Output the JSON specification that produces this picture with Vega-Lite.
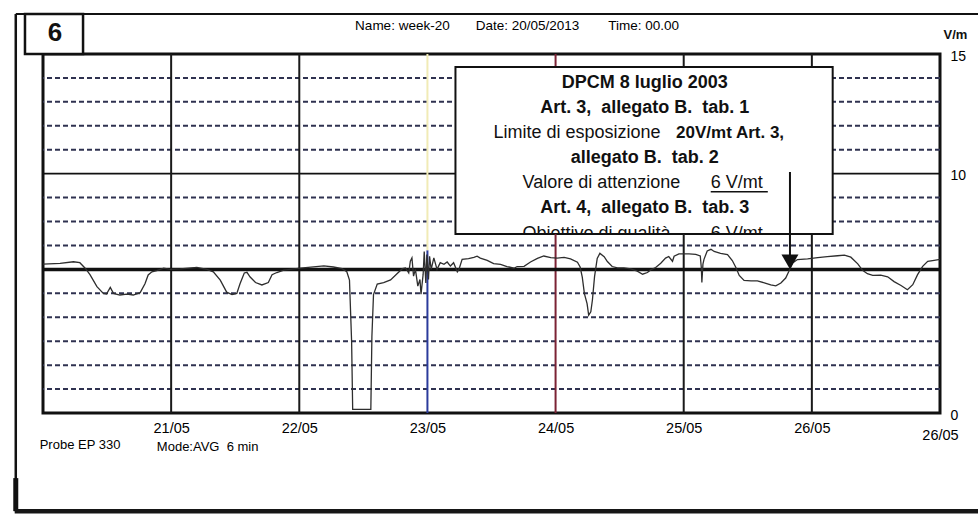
{
  "$schema": "https://vega.github.io/schema/vega-lite/v6.json",
  "width": 897,
  "height": 359,
  "autosize": "none",
  "padding": {"left": 43, "top": 54, "right": 38, "bottom": 108},
  "background": "white",
  "config": {"view": {"stroke": "#111", "strokeWidth": 3}, "font": "Liberation Sans"},
  "data": {"values": [{}]},
  "datasets": {
    "grid": [{"v": 1}, {"v": 2}, {"v": 3}, {"v": 4}, {"v": 5}, {"v": 7}, {"v": 8}, {"v": 9}, {"v": 11}, {"v": 12}, {"v": 13}, {"v": 14}],
    "days": [{"h": 24}, {"h": 48}, {"h": 120}, {"h": 144}],
    "series": [
      {"hour": 0, "vm": 6.22}, {"hour": 3.2, "vm": 6.25}, {"hour": 5.7, "vm": 6.32}, {"hour": 6.9, "vm": 6.28},
      {"hour": 7.9, "vm": 6.05}, {"hour": 8.8, "vm": 5.78}, {"hour": 10.1, "vm": 5.28}, {"hour": 11.3, "vm": 5.0},
      {"hour": 11.9, "vm": 4.97}, {"hour": 12.6, "vm": 5.25}, {"hour": 13.2, "vm": 5.0}, {"hour": 14.4, "vm": 4.93},
      {"hour": 15.7, "vm": 4.97}, {"hour": 16.9, "vm": 4.93}, {"hour": 18.2, "vm": 5.03}, {"hour": 19.1, "vm": 5.4},
      {"hour": 19.7, "vm": 5.77}, {"hour": 20.4, "vm": 5.9}, {"hour": 21.3, "vm": 5.95}, {"hour": 22.6, "vm": 6.05},
      {"hour": 23.8, "vm": 6.0}, {"hour": 25.7, "vm": 6.02}, {"hour": 28.8, "vm": 6.08}, {"hour": 30.7, "vm": 6.0},
      {"hour": 31.9, "vm": 5.9}, {"hour": 33.2, "vm": 5.55}, {"hour": 34.4, "vm": 5.05}, {"hour": 35.4, "vm": 4.95},
      {"hour": 36.3, "vm": 5.0}, {"hour": 36.9, "vm": 5.4}, {"hour": 37.7, "vm": 5.85}, {"hour": 38.2, "vm": 5.88},
      {"hour": 38.8, "vm": 5.68}, {"hour": 39.8, "vm": 5.45}, {"hour": 41.0, "vm": 5.35}, {"hour": 42.2, "vm": 5.45},
      {"hour": 42.9, "vm": 5.78}, {"hour": 43.8, "vm": 5.87}, {"hour": 45.1, "vm": 5.97}, {"hour": 48.2, "vm": 6.05},
      {"hour": 52.6, "vm": 6.15}, {"hour": 54.4, "vm": 6.1}, {"hour": 56.0, "vm": 6.03}, {"hour": 56.9, "vm": 5.9},
      {"hour": 57.4, "vm": 5.55}, {"hour": 57.8, "vm": 3.0}, {"hour": 58.0, "vm": 0.15}, {"hour": 61.4, "vm": 0.15},
      {"hour": 61.6, "vm": 3.2}, {"hour": 61.9, "vm": 4.95}, {"hour": 62.6, "vm": 5.39}, {"hour": 63.8, "vm": 5.45},
      {"hour": 65.1, "vm": 5.56}, {"hour": 66.3, "vm": 5.82}, {"hour": 67.3, "vm": 6.03}, {"hour": 67.9, "vm": 6.06},
      {"hour": 68.5, "vm": 5.85}, {"hour": 68.8, "vm": 6.34}, {"hour": 69.1, "vm": 6.48}, {"hour": 69.4, "vm": 5.72},
      {"hour": 69.75, "vm": 6.0}, {"hour": 70.2, "vm": 5.3}, {"hour": 70.6, "vm": 5.58}, {"hour": 70.8, "vm": 4.96},
      {"hour": 71.2, "vm": 5.8}, {"hour": 71.4, "vm": 6.75}, {"hour": 71.7, "vm": 5.43}, {"hour": 71.9, "vm": 6.62},
      {"hour": 72.2, "vm": 5.58}, {"hour": 72.4, "vm": 6.55}, {"hour": 72.7, "vm": 6.0}, {"hour": 73.2, "vm": 6.48},
      {"hour": 73.8, "vm": 6.0}, {"hour": 74.4, "vm": 6.28}, {"hour": 75.1, "vm": 6.21}, {"hour": 75.7, "vm": 6.31},
      {"hour": 76.3, "vm": 6.14}, {"hour": 76.9, "vm": 6.28}, {"hour": 77.6, "vm": 5.9}, {"hour": 77.9, "vm": 6.0},
      {"hour": 78.5, "vm": 6.42}, {"hour": 79.7, "vm": 6.45}, {"hour": 80.7, "vm": 6.5}, {"hour": 81.3, "vm": 6.55},
      {"hour": 81.9, "vm": 6.47}, {"hour": 83.2, "vm": 6.38}, {"hour": 84.4, "vm": 6.24}, {"hour": 85.7, "vm": 6.21},
      {"hour": 86.9, "vm": 6.12}, {"hour": 88.2, "vm": 6.05}, {"hour": 88.8, "vm": 6.12}, {"hour": 90.1, "vm": 6.13},
      {"hour": 91.3, "vm": 6.31}, {"hour": 92.6, "vm": 6.46}, {"hour": 93.8, "vm": 6.56}, {"hour": 95.1, "vm": 6.49},
      {"hour": 96.3, "vm": 6.47}, {"hour": 97.6, "vm": 6.5}, {"hour": 98.8, "vm": 6.44}, {"hour": 100.1, "vm": 6.3},
      {"hour": 100.6, "vm": 6.1}, {"hour": 101.0, "vm": 5.68}, {"hour": 101.4, "vm": 4.99}, {"hour": 101.9, "vm": 4.57},
      {"hour": 102.2, "vm": 4.09}, {"hour": 102.6, "vm": 4.23}, {"hour": 102.9, "vm": 4.72}, {"hour": 103.3, "vm": 5.7},
      {"hour": 103.8, "vm": 6.46}, {"hour": 104.3, "vm": 6.67}, {"hour": 105.1, "vm": 6.53}, {"hour": 105.7, "vm": 6.33},
      {"hour": 106.6, "vm": 6.12}, {"hour": 107.6, "vm": 6.06}, {"hour": 108.8, "vm": 6.06}, {"hour": 110.1, "vm": 6.02},
      {"hour": 111.3, "vm": 5.93}, {"hour": 112.3, "vm": 5.8}, {"hour": 113.2, "vm": 5.87}, {"hour": 113.8, "vm": 5.98},
      {"hour": 114.75, "vm": 6.08}, {"hour": 115.7, "vm": 6.26}, {"hour": 116.6, "vm": 6.47}, {"hour": 117.2, "vm": 6.54},
      {"hour": 117.9, "vm": 6.34}, {"hour": 118.2, "vm": 6.55}, {"hour": 119.1, "vm": 6.65}, {"hour": 120.1, "vm": 6.65},
      {"hour": 121.0, "vm": 6.65}, {"hour": 122.25, "vm": 6.63}, {"hour": 123.1, "vm": 6.56}, {"hour": 123.3, "vm": 6.07},
      {"hour": 123.4, "vm": 5.45}, {"hour": 123.6, "vm": 6.22}, {"hour": 123.8, "vm": 6.42}, {"hour": 124.4, "vm": 6.77},
      {"hour": 125.1, "vm": 6.84}, {"hour": 125.7, "vm": 6.75}, {"hour": 126.9, "vm": 6.67}, {"hour": 128.2, "vm": 6.62},
      {"hour": 129.1, "vm": 6.37}, {"hour": 129.75, "vm": 6.09}, {"hour": 130.4, "vm": 5.75}, {"hour": 131.3, "vm": 5.54},
      {"hour": 132.6, "vm": 5.52}, {"hour": 133.8, "vm": 5.52}, {"hour": 135.1, "vm": 5.44}, {"hour": 136.3, "vm": 5.35},
      {"hour": 137.25, "vm": 5.31}, {"hour": 138.2, "vm": 5.43}, {"hour": 139.1, "vm": 5.64}, {"hour": 139.7, "vm": 5.92},
      {"hour": 140.4, "vm": 6.27}, {"hour": 141.3, "vm": 6.41}, {"hour": 143.2, "vm": 6.44}, {"hour": 145.1, "vm": 6.49},
      {"hour": 146.9, "vm": 6.53}, {"hour": 148.8, "vm": 6.57}, {"hour": 150.1, "vm": 6.6}, {"hour": 151.3, "vm": 6.51},
      {"hour": 152.6, "vm": 6.23}, {"hour": 153.5, "vm": 5.96}, {"hour": 154.4, "vm": 5.82}, {"hour": 155.4, "vm": 5.75},
      {"hour": 156.9, "vm": 5.76}, {"hour": 158.2, "vm": 5.69}, {"hour": 159.4, "vm": 5.49}, {"hour": 160.7, "vm": 5.33},
      {"hour": 161.9, "vm": 5.15}, {"hour": 162.9, "vm": 5.36}, {"hour": 163.8, "vm": 5.78}, {"hour": 164.75, "vm": 6.13},
      {"hour": 165.7, "vm": 6.34}, {"hour": 166.9, "vm": 6.38}, {"hour": 168, "vm": 6.42}
    ]
  },
  "layer": [
    {
      "data": {"name": "series"},
      "mark": {"type": "line", "stroke": "#333", "strokeWidth": 1.3, "opacity": 0},
      "encoding": {
        "x": {
          "field": "hour", "type": "quantitative",
          "scale": {"domain": [0, 168], "nice": false, "zero": false},
          "axis": {
            "values": [24, 48, 72, 96, 120, 144, 168],
            "labelExpr": "datum.value >= 168 ? '26/05' : (20 + datum.value / 24) + '/05'",
            "title": null, "domain": false, "ticks": false, "tickSize": 0, "grid": false,
            "labelPadding": {"condition": {"test": "datum.value >= 168", "value": 15}, "value": 8},
            "labelFontSize": 14.5, "labelColor": "#000", "labelFont": "Liberation Sans",
            "labelFlush": false, "labelOverlap": false, "labelBound": false
          }
        },
        "y": {
          "field": "vm", "type": "quantitative",
          "scale": {"domain": [0, 15], "nice": false, "zero": false},
          "axis": {
            "orient": "right", "values": [0, 10, 15],
            "title": "V/m", "titleAngle": 0, "titleAlign": "left", "titleBaseline": "middle",
            "titleX": 3, "titleY": -20, "titleFontSize": 13, "titleFontWeight": "bold", "titleFont": "Liberation Sans", "titleColor": "#111",
            "domain": false, "ticks": false, "tickSize": 0, "grid": false,
            "labelPadding": 10, "labelOffset": 2, "labelFontSize": 14, "labelAlign": "left", "labelBaseline": "middle",
            "labelColor": "#000", "labelFont": "Liberation Sans", "labelFlush": false, "labelOverlap": false
          }
        }
      }
    },
    {
      "data": {"name": "grid"},
      "mark": {"type": "rule", "stroke": "#2f3250", "strokeWidth": 2, "strokeDash": [5, 3]},
      "encoding": {"y": {"field": "v", "type": "quantitative", "title": "V/m"}}
    },
    {
      "mark": {"type": "rule", "stroke": "#111", "strokeWidth": 1.6},
      "encoding": {"y": {"datum": 10, "type": "quantitative"}}
    },
    {
      "data": {"name": "days"},
      "mark": {"type": "rule", "stroke": "#1a1a1a", "strokeWidth": 2},
      "encoding": {"x": {"field": "h", "type": "quantitative", "title": null}}
    },
    {
      "mark": {"type": "rule", "stroke": "#2b3b9c", "strokeWidth": 2},
      "encoding": {"x": {"datum": 72, "type": "quantitative"}, "y": {"datum": 0, "type": "quantitative"}, "y2": {"datum": 6.8}}
    },
    {
      "mark": {"type": "rule", "stroke": "#f1ebb6", "strokeWidth": 2},
      "encoding": {"x": {"datum": 72, "type": "quantitative"}, "y": {"datum": 6.8, "type": "quantitative"}, "y2": {"datum": 15}}
    },
    {
      "mark": {"type": "rule", "stroke": "#7b2335", "strokeWidth": 2},
      "encoding": {"x": {"datum": 96, "type": "quantitative"}}
    },
    {
      "mark": {"type": "rule", "stroke": "#111", "strokeWidth": 3.5},
      "encoding": {"y": {"datum": 6, "type": "quantitative"}}
    },
    {
      "data": {"name": "series"},
      "mark": {"type": "line", "stroke": "#2e2e2e", "strokeWidth": 1.3},
      "encoding": {
        "x": {"field": "hour", "type": "quantitative", "title": null},
        "y": {"field": "vm", "type": "quantitative", "title": "V/m"}
      }
    },
    {
      "mark": {"type": "rect", "fill": "white", "stroke": "#111", "strokeWidth": 2},
      "encoding": {"x": {"datum": 77.25, "type": "quantitative"}, "x2": {"datum": 147.9}, "y": {"datum": 14.457, "type": "quantitative"}, "y2": {"datum": 7.478}}
    },
    {
      "mark": {"type": "text", "text": "DPCM 8 luglio 2003", "fontSize": 18, "fontWeight": "bold", "align": "center", "baseline": "alphabetic", "color": "#111"},
      "encoding": {"x": {"datum": 112.7, "type": "quantitative"}, "y": {"datum": 13.567, "type": "quantitative"}}
    },
    {
      "mark": {"type": "text", "text": "Art. 3,\u00a0 allegato B.\u00a0 tab. 1", "fontSize": 18, "fontWeight": "bold", "align": "center", "baseline": "alphabetic", "color": "#111"},
      "encoding": {"x": {"datum": 112.7, "type": "quantitative"}, "y": {"datum": 12.522, "type": "quantitative"}}
    },
    {
      "mark": {"type": "text", "text": "Limite di esposizione", "fontSize": 18, "align": "left", "baseline": "alphabetic", "color": "#111"},
      "encoding": {"x": {"datum": 84.375, "type": "quantitative"}, "y": {"datum": 11.477, "type": "quantitative"}}
    },
    {
      "mark": {"type": "text", "text": "20V/mt Art. 3,", "fontSize": 17, "fontWeight": "bold", "align": "right", "baseline": "alphabetic", "color": "#111"},
      "encoding": {"x": {"datum": 138.8, "type": "quantitative"}, "y": {"datum": 11.477, "type": "quantitative"}}
    },
    {
      "mark": {"type": "text", "text": "allegato B.\u00a0 tab. 2", "fontSize": 18, "fontWeight": "bold", "align": "center", "baseline": "alphabetic", "color": "#111"},
      "encoding": {"x": {"datum": 112.7, "type": "quantitative"}, "y": {"datum": 10.433, "type": "quantitative"}}
    },
    {
      "mark": {"type": "text", "text": "Valore di attenzione", "fontSize": 18, "align": "left", "baseline": "alphabetic", "color": "#111"},
      "encoding": {"x": {"datum": 89.8, "type": "quantitative"}, "y": {"datum": 9.388, "type": "quantitative"}}
    },
    {
      "mark": {"type": "text", "text": "6 V/mt", "fontSize": 18, "align": "left", "baseline": "alphabetic", "color": "#111"},
      "encoding": {"x": {"datum": 125.06, "type": "quantitative"}, "y": {"datum": 9.388, "type": "quantitative"}}
    },
    {
      "mark": {"type": "rule", "stroke": "#111", "strokeWidth": 1.5},
      "encoding": {"x": {"datum": 125.06, "type": "quantitative"}, "x2": {"datum": 135.75}, "y": {"datum": 9.246, "type": "quantitative"}}
    },
    {
      "mark": {"type": "text", "text": "Art. 4,\u00a0 allegato B.\u00a0 tab. 3", "fontSize": 18, "fontWeight": "bold", "align": "center", "baseline": "alphabetic", "color": "#111"},
      "encoding": {"x": {"datum": 112.7, "type": "quantitative"}, "y": {"datum": 8.343, "type": "quantitative"}}
    },
    {
      "mark": {"type": "text", "text": "Obiettivo di qualità", "fontSize": 18, "align": "left", "baseline": "alphabetic", "color": "#111"},
      "encoding": {"x": {"datum": 89.8, "type": "quantitative"}, "y": {"datum": 7.269, "type": "quantitative"}}
    },
    {
      "mark": {"type": "text", "text": "6 V/mt", "fontSize": 18, "align": "left", "baseline": "alphabetic", "color": "#111"},
      "encoding": {"x": {"datum": 125.06, "type": "quantitative"}, "y": {"datum": 7.269, "type": "quantitative"}}
    },
    {
      "mark": {"type": "rect", "fill": "white", "stroke": null, "strokeWidth": 0},
      "encoding": {"x": {"datum": 88.5, "type": "quantitative"}, "x2": {"datum": 138}, "y": {"datum": 7.436, "type": "quantitative"}, "y2": {"datum": 7.06}}
    },
    {
      "mark": {"type": "rule", "stroke": "#7b2335", "strokeWidth": 2},
      "encoding": {"x": {"datum": 96, "type": "quantitative"}, "y": {"datum": 7.06, "type": "quantitative"}, "y2": {"datum": 7.478}}
    },
    {
      "mark": {"type": "rule", "stroke": "#1a1a1a", "strokeWidth": 2},
      "encoding": {"x": {"datum": 120, "type": "quantitative"}, "y": {"datum": 7.06, "type": "quantitative"}, "y2": {"datum": 7.478}}
    },
    {
      "mark": {"type": "rule", "stroke": "#111", "strokeWidth": 2},
      "encoding": {"x": {"datum": 139.9, "type": "quantitative"}, "y": {"datum": 10.07, "type": "quantitative"}, "y2": {"datum": 6.6}}
    },
    {
      "mark": {"type": "point", "shape": "triangle-down", "filled": true, "size": 289, "color": "#111", "opacity": 1},
      "encoding": {"x": {"datum": 139.9, "type": "quantitative"}, "y": {"datum": 6.31, "type": "quantitative"}}
    },
    {
      "mark": {"type": "rect", "fill": "white", "stroke": "#111", "strokeWidth": 2.5},
      "encoding": {"x": {"datum": -3.375, "type": "quantitative"}, "x2": {"datum": 7.5}, "y": {"datum": 16.67, "type": "quantitative"}, "y2": {"datum": 15}}
    },
    {
      "mark": {"type": "text", "text": "6", "fontSize": 26, "fontWeight": "bold", "align": "center", "baseline": "middle", "color": "#111"},
      "encoding": {"x": {"datum": 2.25, "type": "quantitative"}, "y": {"datum": 15.88, "type": "quantitative"}}
    },
    {
      "mark": {"type": "text", "text": "Name: week-20", "fontSize": 13.5, "align": "center", "baseline": "middle", "color": "#000"},
      "encoding": {"x": {"datum": 67.31, "type": "quantitative"}, "y": {"datum": 16.17, "type": "quantitative"}}
    },
    {
      "mark": {"type": "text", "text": "Date: 20/05/2013", "fontSize": 13.5, "align": "center", "baseline": "middle", "color": "#000"},
      "encoding": {"x": {"datum": 90.75, "type": "quantitative"}, "y": {"datum": 16.17, "type": "quantitative"}}
    },
    {
      "mark": {"type": "text", "text": "Time: 00.00", "fontSize": 13.5, "align": "center", "baseline": "middle", "color": "#000"},
      "encoding": {"x": {"datum": 112.5, "type": "quantitative"}, "y": {"datum": 16.17, "type": "quantitative"}}
    },
    {
      "mark": {"type": "text", "text": "Probe EP 330", "fontSize": 13, "align": "center", "baseline": "middle", "color": "#000"},
      "encoding": {"x": {"datum": 6.94, "type": "quantitative"}, "y": {"datum": -1.34, "type": "quantitative"}}
    },
    {
      "mark": {"type": "text", "text": "Mode:AVG\u00a0 6 min", "fontSize": 13, "align": "center", "baseline": "middle", "color": "#000"},
      "encoding": {"x": {"datum": 30.84, "type": "quantitative"}, "y": {"datum": -1.44, "type": "quantitative"}}
    },
    {
      "mark": {"type": "rule", "stroke": "#111", "strokeWidth": 2},
      "encoding": {"x": {"datum": -5.1, "type": "quantitative"}, "x2": {"datum": 176}, "y": {"datum": 16.67, "type": "quantitative"}}
    },
    {
      "mark": {"type": "rule", "stroke": "#111", "strokeWidth": 2.5},
      "encoding": {"x": {"datum": -5.1, "type": "quantitative"}, "y": {"datum": 16.67, "type": "quantitative"}, "y2": {"datum": -4.1}}
    },
    {
      "mark": {"type": "rule", "stroke": "#111", "strokeWidth": 5},
      "encoding": {"x": {"datum": -5.1, "type": "quantitative"}, "y": {"datum": -2.72, "type": "quantitative"}, "y2": {"datum": -4.1}}
    },
    {
      "mark": {"type": "rule", "stroke": "#161616", "strokeWidth": 4.5},
      "encoding": {"x": {"datum": -5.3, "type": "quantitative"}, "x2": {"datum": 176}, "y": {"datum": -4.1, "type": "quantitative"}}
    }
  ]
}
